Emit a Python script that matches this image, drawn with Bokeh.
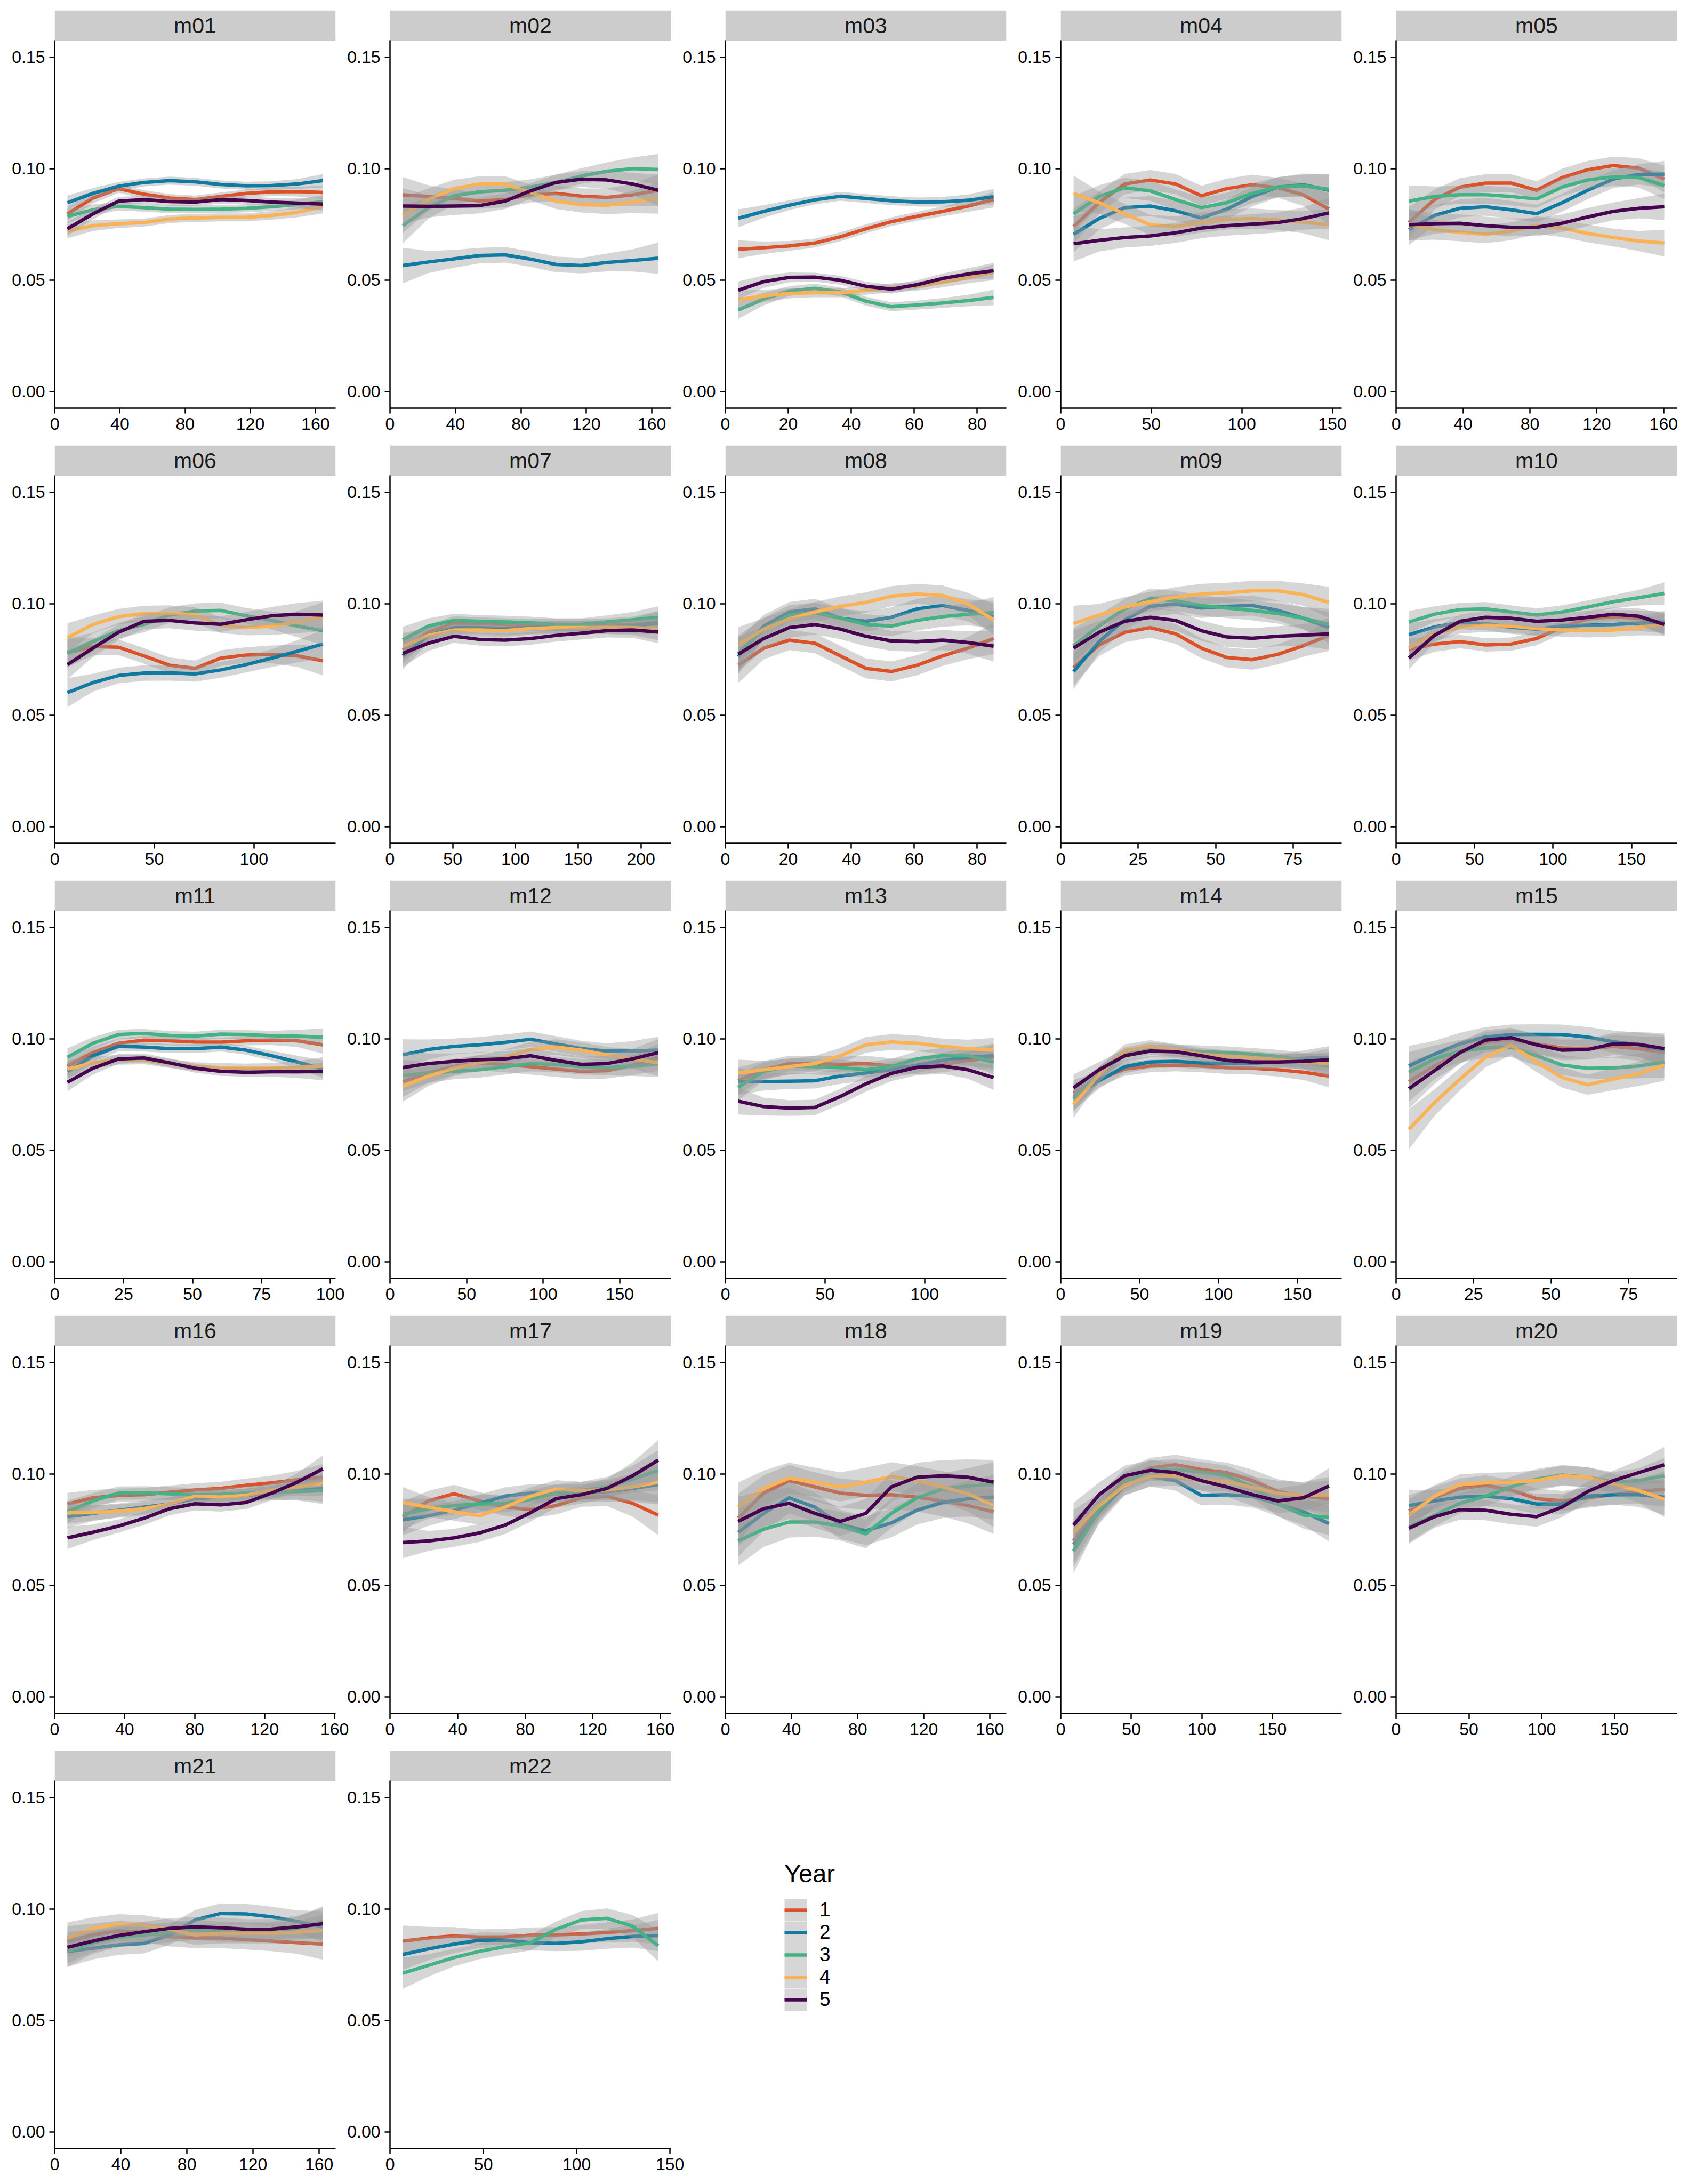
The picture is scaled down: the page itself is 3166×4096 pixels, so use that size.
import numpy as np
from bokeh.plotting import figure
from bokeh.layouts import row, column
from bokeh.models import Range1d, FixedTicker, NumeralTickFormatter, Legend, LegendItem
from bokeh.core.properties import value
from bokeh.embed import file_html
from bokeh.resources import INLINE

# ---------------- data ----------------
PANELS = ["m01", "m02", "m03", "m04", "m05", "m06", "m07", "m08", "m09", "m10", "m11",
          "m12", "m13", "m14", "m15", "m16", "m17", "m18", "m19", "m20", "m21", "m22"]
X_MIN = [7.8, 7.8, 4.1, 7.1, 7.6, 6.4, 10.2, 4.1, 4.1, 8.1, 4.6,
         8.3, 6.4, 8.1, 4.1, 7.3, 7.6, 7.7, 9.0, 8.8, 7.7, 6.8]
X_MAX = [164.5, 163.9, 85.2, 148.1, 160.4, 134.6, 213.8, 85.2, 86.6, 170.9, 97.3,
         175.1, 134.6, 169.9, 86.6, 153.3, 158.7, 162.2, 190.0, 184.2, 162.2, 143.7]
X_TICKS = [[0, 40, 80, 120, 160], [0, 40, 80, 120, 160], [0, 20, 40, 60, 80], [0, 50, 100, 150],
           [0, 40, 80, 120, 160], [0, 50, 100], [0, 50, 100, 150, 200], [0, 20, 40, 60, 80],
           [0, 25, 50, 75], [0, 50, 100, 150], [0, 25, 50, 75, 100], [0, 50, 100, 150],
           [0, 50, 100], [0, 50, 100, 150], [0, 25, 50, 75], [0, 40, 80, 120, 160],
           [0, 40, 80, 120, 160], [0, 40, 80, 120, 160], [0, 50, 100, 150], [0, 50, 100, 150],
           [0, 40, 80, 120, 160], [0, 50, 100, 150]]
Y_TICKS = [0.0, 0.05, 0.10, 0.15]
YEARS = ["1", "2", "3", "4", "5"]
COLORS = ["#DD5129", "#0F7BA2", "#43B284", "#FAB255", "#46034F"]

m01_1 = [0.0797, 0.0868, 0.0910, 0.0885, 0.0868, 0.0861, 0.0875, 0.0889, 0.0896, 0.0897, 0.0893]
m01_2 = [0.0847, 0.0889, 0.0921, 0.0938, 0.0946, 0.0941, 0.0929, 0.0923, 0.0924, 0.0931, 0.0946]
m01_3 = [0.0786, 0.0815, 0.0831, 0.0825, 0.0818, 0.0817, 0.0818, 0.0822, 0.0829, 0.0839, 0.0852]
m01_4 = [0.0719, 0.0744, 0.0753, 0.0758, 0.0774, 0.0779, 0.0781, 0.0781, 0.0790, 0.0804, 0.0829]
m01_5 = [0.0730, 0.0797, 0.0854, 0.0861, 0.0852, 0.0850, 0.0861, 0.0857, 0.0850, 0.0845, 0.0841]
m01_se = [0.0032, 0.0024, 0.0019, 0.0018, 0.0018, 0.0018, 0.0018, 0.0018, 0.0019, 0.0022, 0.0030]

m02_1 = [0.0882, 0.0875, 0.0866, 0.0855, 0.0861, 0.0883, 0.0889, 0.0876, 0.0871, 0.0882, 0.0903]
m02_2 = [0.0565, 0.0581, 0.0595, 0.0610, 0.0613, 0.0594, 0.0570, 0.0565, 0.0579, 0.0588, 0.0598]
m02_3 = [0.0744, 0.0825, 0.0878, 0.0896, 0.0903, 0.0917, 0.0938, 0.0967, 0.0988, 0.1000, 0.0996]
m02_4 = [0.0790, 0.0861, 0.0910, 0.0931, 0.0931, 0.0893, 0.0854, 0.0838, 0.0836, 0.0850, 0.0868]
m02_5 = [0.0832, 0.0831, 0.0832, 0.0834, 0.0854, 0.0900, 0.0938, 0.0953, 0.0949, 0.0931, 0.0903]
m02_se = [0.0080, 0.0050, 0.0040, 0.0035, 0.0035, 0.0035, 0.0035, 0.0035, 0.0040, 0.0050, 0.0070]

m03_1 = [0.0638, 0.0645, 0.0653, 0.0666, 0.0694, 0.0730, 0.0762, 0.0786, 0.0808, 0.0832, 0.0861]
m03_2 = [0.0777, 0.0808, 0.0836, 0.0860, 0.0876, 0.0866, 0.0856, 0.0850, 0.0851, 0.0858, 0.0874]
m03_3 = [0.0366, 0.0415, 0.0451, 0.0463, 0.0447, 0.0405, 0.0380, 0.0388, 0.0397, 0.0408, 0.0422]
m03_4 = [0.0412, 0.0429, 0.0440, 0.0443, 0.0443, 0.0454, 0.0465, 0.0472, 0.0489, 0.0511, 0.0535]
m03_5 = [0.0454, 0.0493, 0.0512, 0.0513, 0.0499, 0.0472, 0.0459, 0.0479, 0.0507, 0.0527, 0.0542]
m03_se = [0.0040, 0.0028, 0.0022, 0.0020, 0.0020, 0.0020, 0.0020, 0.0020, 0.0022, 0.0026, 0.0035]

m04_1 = [0.0740, 0.0847, 0.0931, 0.0949, 0.0931, 0.0878, 0.0910, 0.0928, 0.0914, 0.0882, 0.0818]
m04_2 = [0.0705, 0.0776, 0.0825, 0.0832, 0.0811, 0.0779, 0.0818, 0.0875, 0.0917, 0.0928, 0.0903]
m04_3 = [0.0797, 0.0875, 0.0914, 0.0900, 0.0861, 0.0825, 0.0847, 0.0889, 0.0917, 0.0923, 0.0907]
m04_4 = [0.0889, 0.0847, 0.0797, 0.0748, 0.0740, 0.0758, 0.0772, 0.0776, 0.0769, 0.0760, 0.0748]
m04_5 = [0.0663, 0.0678, 0.0691, 0.0698, 0.0712, 0.0733, 0.0744, 0.0751, 0.0758, 0.0776, 0.0801]
m04_se = [0.0080, 0.0050, 0.0045, 0.0045, 0.0045, 0.0045, 0.0045, 0.0045, 0.0045, 0.0050, 0.0070]

m05_1 = [0.0758, 0.0861, 0.0917, 0.0935, 0.0935, 0.0903, 0.0960, 0.0995, 0.1014, 0.1002, 0.0953]
m05_2 = [0.0726, 0.0790, 0.0822, 0.0829, 0.0815, 0.0798, 0.0847, 0.0903, 0.0953, 0.0974, 0.0975]
m05_3 = [0.0854, 0.0875, 0.0883, 0.0883, 0.0875, 0.0864, 0.0917, 0.0949, 0.0963, 0.0960, 0.0924]
m05_4 = [0.0748, 0.0726, 0.0714, 0.0705, 0.0719, 0.0746, 0.0733, 0.0709, 0.0691, 0.0675, 0.0666]
m05_5 = [0.0748, 0.0753, 0.0755, 0.0744, 0.0737, 0.0737, 0.0755, 0.0783, 0.0808, 0.0822, 0.0829]
m05_se = [0.0070, 0.0045, 0.0040, 0.0040, 0.0040, 0.0040, 0.0040, 0.0040, 0.0040, 0.0045, 0.0060]

m06_1 = [0.0780, 0.0808, 0.0805, 0.0766, 0.0724, 0.0710, 0.0756, 0.0770, 0.0773, 0.0766, 0.0744]
m06_2 = [0.0601, 0.0646, 0.0678, 0.0689, 0.0690, 0.0685, 0.0703, 0.0727, 0.0756, 0.0787, 0.0819]
m06_3 = [0.0777, 0.0830, 0.0879, 0.0907, 0.0949, 0.0967, 0.0970, 0.0946, 0.0925, 0.0900, 0.0879]
m06_4 = [0.0847, 0.0907, 0.0942, 0.0956, 0.0958, 0.0949, 0.0904, 0.0893, 0.0900, 0.0918, 0.0942]
m06_5 = [0.0727, 0.0801, 0.0872, 0.0921, 0.0925, 0.0914, 0.0908, 0.0928, 0.0946, 0.0953, 0.0949]
m06_se = [0.0065, 0.0040, 0.0035, 0.0035, 0.0035, 0.0035, 0.0035, 0.0035, 0.0040, 0.0050, 0.0065]

m07_1 = [0.0791, 0.0872, 0.0914, 0.0911, 0.0907, 0.0904, 0.0904, 0.0904, 0.0904, 0.0907, 0.0918]
m07_2 = [0.0766, 0.0858, 0.0893, 0.0893, 0.0889, 0.0893, 0.0896, 0.0894, 0.0896, 0.0900, 0.0914]
m07_3 = [0.0837, 0.0900, 0.0925, 0.0921, 0.0918, 0.0914, 0.0907, 0.0907, 0.0918, 0.0928, 0.0939]
m07_4 = [0.0808, 0.0858, 0.0882, 0.0882, 0.0879, 0.0889, 0.0893, 0.0893, 0.0894, 0.0893, 0.0887]
m07_5 = [0.0777, 0.0823, 0.0854, 0.0840, 0.0837, 0.0844, 0.0858, 0.0868, 0.0879, 0.0882, 0.0873]
m07_se = [0.0060, 0.0035, 0.0030, 0.0028, 0.0028, 0.0028, 0.0028, 0.0028, 0.0030, 0.0035, 0.0050]

m08_1 = [0.0724, 0.0801, 0.0837, 0.0823, 0.0766, 0.0710, 0.0696, 0.0724, 0.0766, 0.0801, 0.0844]
m08_2 = [0.0763, 0.0900, 0.0963, 0.0977, 0.0935, 0.0921, 0.0939, 0.0977, 0.0992, 0.0970, 0.0942]
m08_3 = [0.0777, 0.0886, 0.0949, 0.0960, 0.0935, 0.0907, 0.0900, 0.0925, 0.0942, 0.0953, 0.0960]
m08_4 = [0.0815, 0.0886, 0.0932, 0.0963, 0.0988, 0.1006, 0.1034, 0.1044, 0.1037, 0.0999, 0.0928]
m08_5 = [0.0773, 0.0844, 0.0893, 0.0907, 0.0886, 0.0854, 0.0833, 0.0830, 0.0837, 0.0826, 0.0810]
m08_se = [0.0080, 0.0050, 0.0045, 0.0045, 0.0045, 0.0045, 0.0045, 0.0045, 0.0045, 0.0050, 0.0070]

m09_1 = [0.0713, 0.0815, 0.0872, 0.0893, 0.0865, 0.0801, 0.0759, 0.0749, 0.0773, 0.0812, 0.0858]
m09_2 = [0.0696, 0.0830, 0.0928, 0.0988, 0.0999, 0.0981, 0.0988, 0.0992, 0.0970, 0.0935, 0.0893]
m09_3 = [0.0812, 0.0900, 0.0977, 0.1023, 0.1013, 0.0992, 0.0981, 0.0970, 0.0956, 0.0935, 0.0907]
m09_4 = [0.0911, 0.0949, 0.0985, 0.1009, 0.1030, 0.1044, 0.1049, 0.1058, 0.1058, 0.1041, 0.1006]
m09_5 = [0.0801, 0.0872, 0.0921, 0.0939, 0.0925, 0.0879, 0.0851, 0.0845, 0.0854, 0.0859, 0.0865]
m09_se = [0.0080, 0.0050, 0.0045, 0.0045, 0.0045, 0.0045, 0.0045, 0.0045, 0.0045, 0.0050, 0.0070]

m10_1 = [0.0794, 0.0819, 0.0830, 0.0815, 0.0819, 0.0844, 0.0896, 0.0932, 0.0942, 0.0935, 0.0914]
m10_2 = [0.0861, 0.0896, 0.0915, 0.0911, 0.0894, 0.0886, 0.0900, 0.0904, 0.0907, 0.0913, 0.0918]
m10_3 = [0.0918, 0.0953, 0.0974, 0.0977, 0.0963, 0.0949, 0.0963, 0.0985, 0.1009, 0.1027, 0.1046]
m10_4 = [0.0801, 0.0865, 0.0896, 0.0904, 0.0900, 0.0889, 0.0882, 0.0879, 0.0882, 0.0893, 0.0907]
m10_5 = [0.0756, 0.0858, 0.0921, 0.0939, 0.0935, 0.0921, 0.0927, 0.0939, 0.0953, 0.0944, 0.0907]
m10_se = [0.0050, 0.0035, 0.0030, 0.0030, 0.0030, 0.0030, 0.0030, 0.0030, 0.0030, 0.0035, 0.0050]

m11_1 = [0.0878, 0.0938, 0.0980, 0.0994, 0.0991, 0.0986, 0.0985, 0.0991, 0.0994, 0.0991, 0.0973]
m11_2 = [0.0854, 0.0924, 0.0966, 0.0963, 0.0956, 0.0956, 0.0963, 0.0949, 0.0924, 0.0896, 0.0864]
m11_3 = [0.0917, 0.0980, 0.1019, 0.1024, 0.1015, 0.1012, 0.1021, 0.1019, 0.1014, 0.1012, 0.1007]
m11_4 = [0.0864, 0.0892, 0.0906, 0.0906, 0.0889, 0.0875, 0.0871, 0.0869, 0.0869, 0.0871, 0.0878]
m11_5 = [0.0805, 0.0868, 0.0910, 0.0914, 0.0892, 0.0868, 0.0854, 0.0850, 0.0852, 0.0852, 0.0854]
m11_se = [0.0040, 0.0028, 0.0022, 0.0020, 0.0020, 0.0020, 0.0020, 0.0020, 0.0022, 0.0028, 0.0040]

m12_1 = [0.0808, 0.0847, 0.0875, 0.0892, 0.0885, 0.0875, 0.0864, 0.0854, 0.0857, 0.0882, 0.0917]
m12_2 = [0.0928, 0.0952, 0.0966, 0.0973, 0.0984, 0.0998, 0.0977, 0.0956, 0.0945, 0.0945, 0.0949]
m12_3 = [0.0836, 0.0847, 0.0854, 0.0861, 0.0875, 0.0889, 0.0885, 0.0875, 0.0871, 0.0878, 0.0889]
m12_4 = [0.0787, 0.0833, 0.0868, 0.0892, 0.0917, 0.0952, 0.0963, 0.0949, 0.0928, 0.0910, 0.0892]
m12_5 = [0.0871, 0.0889, 0.0899, 0.0906, 0.0910, 0.0924, 0.0903, 0.0885, 0.0889, 0.0910, 0.0938]
m12_se = [0.0070, 0.0045, 0.0035, 0.0035, 0.0035, 0.0035, 0.0035, 0.0035, 0.0035, 0.0045, 0.0060]

m13_1 = [0.0812, 0.0861, 0.0889, 0.0889, 0.0885, 0.0889, 0.0878, 0.0875, 0.0885, 0.0903, 0.0917]
m13_2 = [0.0808, 0.0808, 0.0810, 0.0812, 0.0833, 0.0847, 0.0861, 0.0882, 0.0903, 0.0917, 0.0924]
m13_3 = [0.0783, 0.0854, 0.0878, 0.0875, 0.0871, 0.0861, 0.0875, 0.0910, 0.0924, 0.0924, 0.0896]
m13_4 = [0.0847, 0.0861, 0.0875, 0.0889, 0.0924, 0.0973, 0.0986, 0.0980, 0.0966, 0.0956, 0.0949]
m13_5 = [0.0720, 0.0696, 0.0689, 0.0692, 0.0741, 0.0798, 0.0845, 0.0872, 0.0878, 0.0861, 0.0826]
m13_se = [0.0060, 0.0040, 0.0035, 0.0035, 0.0035, 0.0035, 0.0035, 0.0035, 0.0035, 0.0040, 0.0055]

m14_1 = [0.0755, 0.0819, 0.0864, 0.0878, 0.0882, 0.0878, 0.0871, 0.0868, 0.0861, 0.0850, 0.0833]
m14_2 = [0.0738, 0.0812, 0.0875, 0.0896, 0.0899, 0.0892, 0.0889, 0.0889, 0.0899, 0.0913, 0.0917]
m14_3 = [0.0731, 0.0840, 0.0931, 0.0956, 0.0947, 0.0942, 0.0938, 0.0931, 0.0921, 0.0903, 0.0878]
m14_4 = [0.0706, 0.0840, 0.0945, 0.0966, 0.0949, 0.0931, 0.0921, 0.0916, 0.0906, 0.0896, 0.0889]
m14_5 = [0.0780, 0.0861, 0.0924, 0.0945, 0.0942, 0.0924, 0.0903, 0.0896, 0.0896, 0.0899, 0.0906]
m14_se = [0.0060, 0.0035, 0.0030, 0.0028, 0.0028, 0.0028, 0.0028, 0.0028, 0.0030, 0.0035, 0.0050]

m15_1 = [0.0808, 0.0878, 0.0938, 0.0984, 0.0998, 0.0977, 0.0959, 0.0956, 0.0966, 0.0956, 0.0938]
m15_2 = [0.0878, 0.0931, 0.0977, 0.1008, 0.1019, 0.1020, 0.1019, 0.1008, 0.0987, 0.0973, 0.0947]
m15_3 = [0.0850, 0.0910, 0.0945, 0.0959, 0.0963, 0.0924, 0.0882, 0.0868, 0.0869, 0.0878, 0.0896]
m15_4 = [0.0594, 0.0713, 0.0819, 0.0917, 0.0972, 0.0896, 0.0826, 0.0794, 0.0819, 0.0843, 0.0882]
m15_5 = [0.0776, 0.0857, 0.0938, 0.0994, 0.1005, 0.0973, 0.0949, 0.0952, 0.0977, 0.0975, 0.0956]
m15_se = [0.0090, 0.0060, 0.0050, 0.0045, 0.0045, 0.0045, 0.0045, 0.0045, 0.0050, 0.0055, 0.0070]

m16_1 = [0.0865, 0.0893, 0.0904, 0.0907, 0.0918, 0.0928, 0.0935, 0.0949, 0.0960, 0.0974, 0.0985]
m16_2 = [0.0808, 0.0823, 0.0837, 0.0851, 0.0865, 0.0889, 0.0896, 0.0904, 0.0914, 0.0925, 0.0935]
m16_3 = [0.0830, 0.0879, 0.0914, 0.0915, 0.0911, 0.0907, 0.0908, 0.0914, 0.0918, 0.0921, 0.0925]
m16_4 = [0.0826, 0.0826, 0.0833, 0.0844, 0.0865, 0.0900, 0.0896, 0.0904, 0.0928, 0.0942, 0.0960]
m16_5 = [0.0713, 0.0738, 0.0766, 0.0801, 0.0844, 0.0866, 0.0861, 0.0872, 0.0914, 0.0963, 0.1023]
m16_se = [0.0050, 0.0035, 0.0030, 0.0030, 0.0030, 0.0030, 0.0030, 0.0030, 0.0032, 0.0040, 0.0060]

m17_1 = [0.0805, 0.0879, 0.0911, 0.0879, 0.0851, 0.0840, 0.0858, 0.0893, 0.0900, 0.0868, 0.0815]
m17_2 = [0.0794, 0.0812, 0.0837, 0.0868, 0.0900, 0.0914, 0.0911, 0.0914, 0.0921, 0.0935, 0.0953]
m17_3 = [0.0819, 0.0844, 0.0858, 0.0865, 0.0868, 0.0886, 0.0914, 0.0925, 0.0942, 0.0977, 0.1016]
m17_4 = [0.0872, 0.0851, 0.0830, 0.0812, 0.0851, 0.0900, 0.0932, 0.0925, 0.0928, 0.0942, 0.0963]
m17_5 = [0.0692, 0.0699, 0.0713, 0.0735, 0.0770, 0.0826, 0.0889, 0.0907, 0.0935, 0.0992, 0.1062]
m17_se = [0.0070, 0.0045, 0.0040, 0.0040, 0.0040, 0.0040, 0.0040, 0.0040, 0.0045, 0.0060, 0.0090]

m18_1 = [0.0801, 0.0914, 0.0970, 0.0942, 0.0914, 0.0904, 0.0907, 0.0896, 0.0879, 0.0858, 0.0830]
m18_2 = [0.0738, 0.0823, 0.0893, 0.0851, 0.0773, 0.0745, 0.0780, 0.0837, 0.0872, 0.0889, 0.0896]
m18_3 = [0.0699, 0.0752, 0.0784, 0.0784, 0.0766, 0.0731, 0.0823, 0.0893, 0.0932, 0.0946, 0.0953]
m18_4 = [0.0851, 0.0935, 0.0981, 0.0963, 0.0942, 0.0963, 0.0988, 0.0970, 0.0942, 0.0911, 0.0861]
m18_5 = [0.0787, 0.0844, 0.0868, 0.0823, 0.0787, 0.0823, 0.0942, 0.0985, 0.0992, 0.0985, 0.0963]
m18_se = [0.0110, 0.0080, 0.0070, 0.0065, 0.0065, 0.0065, 0.0065, 0.0065, 0.0070, 0.0080, 0.0100]

m19_1 = [0.0699, 0.0851, 0.0977, 0.1027, 0.1041, 0.1020, 0.1006, 0.0970, 0.0921, 0.0900, 0.0889]
m19_2 = [0.0682, 0.0830, 0.0949, 0.0988, 0.0970, 0.0904, 0.0907, 0.0900, 0.0865, 0.0830, 0.0777]
m19_3 = [0.0654, 0.0837, 0.0963, 0.1016, 0.1020, 0.1009, 0.0992, 0.0942, 0.0865, 0.0815, 0.0805]
m19_4 = [0.0738, 0.0858, 0.0949, 0.0988, 0.0992, 0.0970, 0.0967, 0.0939, 0.0914, 0.0904, 0.0907]
m19_5 = [0.0770, 0.0907, 0.0992, 0.1016, 0.1006, 0.0970, 0.0942, 0.0907, 0.0879, 0.0893, 0.0946]
m19_se = [0.0100, 0.0055, 0.0045, 0.0045, 0.0045, 0.0045, 0.0045, 0.0050, 0.0055, 0.0060, 0.0080]

m20_1 = [0.0833, 0.0893, 0.0935, 0.0949, 0.0928, 0.0889, 0.0879, 0.0893, 0.0907, 0.0921, 0.0932]
m20_2 = [0.0858, 0.0879, 0.0896, 0.0900, 0.0889, 0.0865, 0.0865, 0.0900, 0.0907, 0.0907, 0.0896]
m20_3 = [0.0763, 0.0815, 0.0868, 0.0900, 0.0942, 0.0977, 0.0995, 0.0985, 0.0963, 0.0970, 0.0992]
m20_4 = [0.0815, 0.0900, 0.0953, 0.0960, 0.0963, 0.0970, 0.0992, 0.0985, 0.0956, 0.0925, 0.0886]
m20_5 = [0.0756, 0.0808, 0.0840, 0.0837, 0.0819, 0.0808, 0.0851, 0.0921, 0.0970, 0.1006, 0.1041]
m20_se = [0.0070, 0.0050, 0.0045, 0.0045, 0.0045, 0.0045, 0.0045, 0.0045, 0.0045, 0.0055, 0.0080]

m21_1 = [0.0853, 0.0884, 0.0902, 0.0895, 0.0877, 0.0870, 0.0870, 0.0863, 0.0856, 0.0849, 0.0843]
m21_2 = [0.0810, 0.0824, 0.0839, 0.0846, 0.0884, 0.0951, 0.0980, 0.0978, 0.0965, 0.0944, 0.0920]
m21_3 = [0.0810, 0.0849, 0.0874, 0.0884, 0.0895, 0.0906, 0.0898, 0.0895, 0.0898, 0.0913, 0.0944]
m21_4 = [0.0870, 0.0913, 0.0932, 0.0927, 0.0909, 0.0884, 0.0891, 0.0891, 0.0891, 0.0896, 0.0903]
m21_5 = [0.0828, 0.0856, 0.0881, 0.0898, 0.0913, 0.0920, 0.0916, 0.0909, 0.0910, 0.0920, 0.0934]
m21_se = [0.0070, 0.0050, 0.0045, 0.0045, 0.0045, 0.0045, 0.0045, 0.0045, 0.0045, 0.0050, 0.0070]

m22_1 = [0.0856, 0.0870, 0.0879, 0.0874, 0.0875, 0.0882, 0.0884, 0.0888, 0.0895, 0.0903, 0.0913]
m22_2 = [0.0796, 0.0821, 0.0842, 0.0860, 0.0860, 0.0849, 0.0846, 0.0853, 0.0867, 0.0877, 0.0881]
m22_3 = [0.0712, 0.0747, 0.0782, 0.0810, 0.0831, 0.0849, 0.0909, 0.0951, 0.0958, 0.0923, 0.0835]
m22_se = [0.0070, 0.0050, 0.0040, 0.0035, 0.0035, 0.0035, 0.0035, 0.0040, 0.0045, 0.0050, 0.0070]

SERIES = {
    "m01": [m01_1, m01_2, m01_3, m01_4, m01_5], "m02": [m02_1, m02_2, m02_3, m02_4, m02_5],
    "m03": [m03_1, m03_2, m03_3, m03_4, m03_5], "m04": [m04_1, m04_2, m04_3, m04_4, m04_5],
    "m05": [m05_1, m05_2, m05_3, m05_4, m05_5], "m06": [m06_1, m06_2, m06_3, m06_4, m06_5],
    "m07": [m07_1, m07_2, m07_3, m07_4, m07_5], "m08": [m08_1, m08_2, m08_3, m08_4, m08_5],
    "m09": [m09_1, m09_2, m09_3, m09_4, m09_5], "m10": [m10_1, m10_2, m10_3, m10_4, m10_5],
    "m11": [m11_1, m11_2, m11_3, m11_4, m11_5], "m12": [m12_1, m12_2, m12_3, m12_4, m12_5],
    "m13": [m13_1, m13_2, m13_3, m13_4, m13_5], "m14": [m14_1, m14_2, m14_3, m14_4, m14_5],
    "m15": [m15_1, m15_2, m15_3, m15_4, m15_5], "m16": [m16_1, m16_2, m16_3, m16_4, m16_5],
    "m17": [m17_1, m17_2, m17_3, m17_4, m17_5], "m18": [m18_1, m18_2, m18_3, m18_4, m18_5],
    "m19": [m19_1, m19_2, m19_3, m19_4, m19_5], "m20": [m20_1, m20_2, m20_3, m20_4, m20_5],
    "m21": [m21_1, m21_2, m21_3, m21_4, m21_5], "m22": [m22_1, m22_2, m22_3],
}
SE = {"m01": m01_se, "m02": m02_se, "m03": m03_se, "m04": m04_se, "m05": m05_se, "m06": m06_se,
      "m07": m07_se, "m08": m08_se, "m09": m09_se, "m10": m10_se, "m11": m11_se, "m12": m12_se,
      "m13": m13_se, "m14": m14_se, "m15": m15_se, "m16": m16_se, "m17": m17_se, "m18": m18_se,
      "m19": m19_se, "m20": m20_se, "m21": m21_se, "m22": m22_se}

# ---------------- layout constants (output pixels) ----------------
FONT = "Liberation Sans"
FRAME_W = 527
FRAME_H = 746
TOP = 19
BOTTOM = 60
RIGHT = 18
OVER = 30
ROW_H = 816
NCOL = 5
Y_LO, Y_HI = -0.0075, 0.1575
STRIP = 0.01352
LINE_W = 6.5


def make_panel(idx, col):
    name = PANELS[idx]
    lo, hi = X_MIN[idx], X_MAX[idx]
    pad = 0.05 * (hi - lo)
    x0 = min(lo - pad, 0.0) - 1e-6
    x1 = hi + pad
    left = 102 if col == 0 else 84
    over = 0 if col == NCOL - 1 else OVER
    height = TOP + FRAME_H + BOTTOM
    p = figure(width=left + FRAME_W + RIGHT + over, height=height,
               output_backend="svg", toolbar_location=None,
               x_range=Range1d(x0, x1), y_range=Range1d(Y_LO, Y_HI + STRIP),
               min_border_left=left, min_border_right=RIGHT + over,
               min_border_top=TOP, min_border_bottom=BOTTOM,
               margin=(0, -over, ROW_H - height, 0))
    p.background_fill_color = None
    p.border_fill_color = None
    p.outline_line_color = None
    for g in p.grid:
        g.visible = False

    xs = np.linspace(lo, hi, 11)
    se = np.array(SE[name])
    for k, ys in enumerate(SERIES[name]):
        ys = np.array(ys)
        p.varea(x=xs, y1=ys - se, y2=ys + se, fill_color="#999999", fill_alpha=0.4)
        p.line(x=xs, y=ys, line_color=COLORS[k], line_width=LINE_W, line_join="round")

    # facet strip
    p.quad(left=[x0], right=[x1], bottom=[Y_HI], top=[Y_HI + STRIP],
           fill_color="#CCCCCC", line_color=None)
    p.text(x=[(x0 + x1) / 2], y=[Y_HI + STRIP / 2], text=[name],
           text_font=value(FONT), text_font_size="41px", text_align="center",
           text_baseline="middle", text_color="#1A1A1A")

    p.xaxis.ticker = FixedTicker(ticks=X_TICKS[idx])
    p.yaxis.ticker = FixedTicker(ticks=Y_TICKS)
    p.yaxis.formatter = NumeralTickFormatter(format="0.00")
    p.yaxis.bounds = (Y_LO, Y_HI)
    for ax in p.axis:
        ax.axis_line_color = "black"
        ax.axis_line_width = 2.5
        ax.major_tick_line_color = "black"
        ax.major_tick_line_width = 2.5
        ax.major_tick_out = 10
        ax.major_tick_in = 0
        ax.minor_tick_out = 0
        ax.minor_tick_in = 0
        ax.major_label_text_font = FONT
        ax.major_label_text_font_size = "32px"
        ax.major_label_text_color = "black"
        ax.major_label_standoff = 8
    return p


def make_legend(width):
    height = TOP + FRAME_H + BOTTOM
    lf = figure(width=width, height=height, output_backend="svg", toolbar_location=None,
                x_range=Range1d(0, 1), y_range=Range1d(0, 1),
                x_axis_location=None, y_axis_location=None,
                min_border_left=0, min_border_top=TOP, min_border_right=0, min_border_bottom=BOTTOM,
                margin=(0, 0, ROW_H - height, -8))
    lf.background_fill_color = None
    lf.border_fill_color = None
    lf.outline_line_color = None
    for g in lf.grid:
        g.visible = False
    items = []
    nan2 = [float("nan"), float("nan")]
    for k, yr in enumerate(YEARS):
        bg = lf.line(x=nan2, y=nan2, line_color="#999999", line_alpha=0.4, line_width=42)
        ln = lf.line(x=nan2, y=nan2, line_color=COLORS[k], line_width=LINE_W)
        items.append(LegendItem(label=yr, renderers=[bg, ln]))
    leg = Legend(items=items, location="top_left", title="Year",
                 title_text_font=FONT, title_text_font_size="47px",
                 title_text_font_style="normal", title_text_color="black", title_standoff=20,
                 label_text_font=FONT, label_text_font_size="37px", label_text_color="black",
                 glyph_width=42, glyph_height=42, label_height=42, label_standoff=24,
                 spacing=0, padding=0, margin=203,
                 background_fill_alpha=0, border_line_alpha=0)
    lf.add_layout(leg)
    return lf


rows = []
idx = 0
for r in range(5):
    kids = []
    for c in range(NCOL):
        if idx < len(PANELS):
            kids.append(make_panel(idx, c))
            idx += 1
    if r == 4:
        kids.append(make_legend(600))
    rows.append(row(*kids, spacing=0))

layout = column(*rows, spacing=0)

open("out.html", "w").write(file_html(layout, INLINE))
